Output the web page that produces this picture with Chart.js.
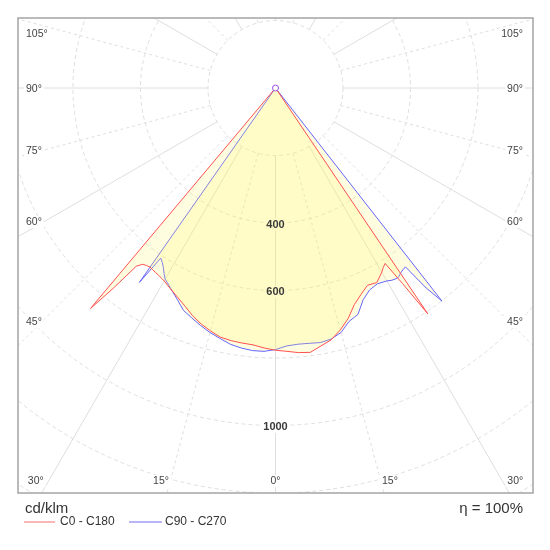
<!DOCTYPE html>
<html>
<head>
<meta charset="utf-8">
<script src="https://cdn.jsdelivr.net/npm/chart.js@4/dist/chart.umd.min.js"></script>
<style>
  body { margin: 0; background: #fff; }
  canvas { display: block; }
</style>
</head>
<body>
<canvas id="ldc" width="550" height="550"></canvas>
<script>
// gamma angles, deg from nadir
const gamma = [0, 2.5, 5, 7.5, 10, 12.5, 15, 17.5, 20, 22.5, 25, 27.5, 30, 31, 32, 33, 34, 35, 36, 37, 38, 39, 40, 41, 90];

// intensities, cd/klm
const c0   = [777, 781, 787, 790, 776, 764, 742, 716, 683, 662, 645, 650, 630, 620, 613, 690, 807, 0, 0, 0, 0, 0, 0, 0, 0];
const c180 = [777, 771, 764, 762, 760, 756, 745, 733, 718, 700, 685, 672, 660, 657, 654, 652, 650, 648, 650, 654, 670, 762, 853, 0, 0];
const c90  = [775, 765, 762, 763, 766, 762, 750, 725, 714, 679, 660, 654, 660, 665, 668, 669, 662, 658, 655, 742, 801, 0, 0, 0, 0];
const c270 = [775, 781, 781, 777, 771, 760, 750, 738, 725, 713, 690, 671, 654, 641, 627, 616, 608, 703, 0, 0, 0, 0, 0, 0, 0];

const rings = [200, 400, 600, 800, 1000, 1200, 1400];
const ringLabels = [400, 600, 1000];
const sideAngles = [105, 90, 75, 60, 45];
const bottomAngles = [-30, -15, 0, 15, 30];

const FONT = "'Liberation Sans', Arial, sans-serif";

// left half-plane goes to -x, right half-plane to +x, nadir is -y
function curve (left, right) {
  let pts = []
  for (let i = gamma.length - 1; i >= 0; i--) {
    let a = gamma[i] * Math.PI / 180
    pts.push({ x: -left[i] * Math.sin(a), y: -left[i] * Math.cos(a) })
  }
  for (let i = 1; i < gamma.length; i++) {
    let a = gamma[i] * Math.PI / 180
    pts.push({ x: right[i] * Math.sin(a), y: -right[i] * Math.cos(a) })
  }
  return pts
}

// white box behind a label, so grid lines break around it
function clearBox (ctx, txt, x, y) {
  const w = ctx.measureText(txt).width
  let x0 = x
  if (ctx.textAlign === 'center') x0 = x - w / 2
  else if (ctx.textAlign === 'right') x0 = x - w
  const fill = ctx.fillStyle
  ctx.fillStyle = '#fff'
  ctx.fillRect(x0 - 2, y - 6, w + 4, 12)
  ctx.fillStyle = fill
}

function boxedText (ctx, txt, x, y) {
  clearBox(ctx, txt, x, y)
  ctx.fillText(txt, x, y)
}

const ringFont = 'bold 11px ' + FONT

const polarGrid = {
  id: 'polarGrid',
  beforeDatasetsDraw (chart) {
    const { ctx, chartArea: area, scales: { x, y } } = chart
    const cx = x.getPixelForValue(0), cy = y.getPixelForValue(0)
    const px = v => x.getPixelForValue(v) - cx
    ctx.save()
    ctx.beginPath()
    ctx.rect(area.left, area.top, area.right - area.left, area.bottom - area.top)
    ctx.clip()
    ctx.lineWidth = 1
    ctx.strokeStyle = '#dedede'
    ctx.setLineDash([4, 3])
    rings.forEach(r => {
      ctx.beginPath()
      ctx.arc(cx, cy, px(r), 0, Math.PI * 2)
      ctx.stroke()
    })
    const r0 = px(rings[0]), r1 = px(3000)
    for (let g = 0; g < 360; g += 15) {
      ctx.setLineDash(g % 30 ? [3, 3] : [])
      const a = g * Math.PI / 180
      ctx.beginPath()
      ctx.moveTo(cx + r0 * Math.sin(a), cy + r0 * Math.cos(a))
      ctx.lineTo(cx + r1 * Math.sin(a), cy + r1 * Math.cos(a))
      ctx.stroke()
    }
    ctx.setLineDash([])

    ctx.textBaseline = 'middle'
    // boxes for the ring values, text comes after the curves
    ctx.textAlign = 'center'
    ctx.font = ringFont
    ringLabels.forEach(v => clearBox(ctx, String(v), cx, y.getPixelForValue(-v) + 1.5))

    // angle labels on the sides
    const sideY = [16, 71, 133, 204, 304]
    ctx.fillStyle = '#444'
    ctx.font = '10.5px ' + FONT
    sideAngles.forEach((g, i) => {
      ctx.textAlign = 'left'
      boxedText(ctx, g + '°', area.left + 8, area.top + sideY[i])
      ctx.textAlign = 'right'
      boxedText(ctx, g + '°', area.right - 10, area.top + sideY[i])
    })
    // angle labels along the bottom edge
    const by = area.bottom - 12
    bottomAngles.forEach(g => {
      const xi = cx + (area.bottom - cy) * Math.tan(g * Math.PI / 180)
      if (g < 0) { ctx.textAlign = 'right'; boxedText(ctx, -g + '°', xi + 2, by) }
      else if (g > 0) { ctx.textAlign = 'left'; boxedText(ctx, g + '°', xi - 2, by) }
      else { ctx.textAlign = 'center'; boxedText(ctx, '0°', xi, by) }
    })
    ctx.restore()
  },
  afterDatasetsDraw (chart) {
    const { ctx, scales: { x, y } } = chart
    const cx = x.getPixelForValue(0)
    ctx.save()
    ctx.fillStyle = '#3a3a3a'
    ctx.textBaseline = 'middle'
    ctx.textAlign = 'center'
    ctx.font = ringFont
    ringLabels.forEach(v => ctx.fillText(String(v), cx, y.getPixelForValue(-v) + 1.5))
    ctx.restore()
  },
  afterDraw (chart) {
    const { ctx, chartArea: area } = chart
    ctx.save()
    ctx.strokeStyle = '#a4a4a4'
    ctx.lineWidth = 1.5
    ctx.strokeRect(area.left, area.top, area.right - area.left, area.bottom - area.top)

    ctx.fillStyle = '#333'
    ctx.textBaseline = 'alphabetic'
    ctx.font = '15px ' + FONT
    ctx.textAlign = 'left'
    ctx.fillText('cd/klm', area.left + 7, area.bottom + 20)
    ctx.textAlign = 'right'
    ctx.fillText('η = 100%', area.right - 10, area.bottom + 20)

    // legend
    ctx.font = '12px ' + FONT
    ctx.textAlign = 'left'
    ctx.textBaseline = 'middle'
    const ly = area.bottom + 29
    ctx.lineWidth = 1
    ctx.strokeStyle = 'rgb(245, 110, 110)'
    ctx.beginPath(); ctx.moveTo(24, ly); ctx.lineTo(55, ly); ctx.stroke()
    ctx.fillText('C0 - C180', 60, ly)
    ctx.strokeStyle = 'rgb(110, 110, 240)'
    ctx.beginPath(); ctx.moveTo(129, ly); ctx.lineTo(162, ly); ctx.stroke()
    ctx.fillText('C90 - C270', 165, ly)
    ctx.restore()
  }
}

new Chart(document.getElementById('ldc'), {
  type: 'scatter',
  data: {
    datasets: [
      {
        label: 'centre',
        data: [{ x: 0, y: 0 }],
        pointRadius: 3,
        pointBorderWidth: 1,
        pointBorderColor: '#9b4fe0',
        pointBackgroundColor: '#fff'
      },
      {
        label: 'C0 - C180',
        data: curve(c180, c0),
        showLine: true,
        fill: 'shape',
        backgroundColor: 'rgba(255, 245, 100, 0.2)',
        borderColor: 'rgb(255, 80, 80)',
        borderWidth: 1,
        pointRadius: 0,
        tension: 0
      },
      {
        label: 'C90 - C270',
        data: curve(c270, c90),
        showLine: true,
        fill: 'shape',
        backgroundColor: 'rgba(255, 245, 100, 0.2)',
        borderColor: 'rgb(100, 100, 255)',
        borderWidth: 1,
        pointRadius: 0,
        tension: 0
      }
    ]
  },
  options: {
    responsive: false,
    animation: false,
    events: [],
    layout: { padding: { left: 18, top: 18, right: 17, bottom: 57 } },
    scales: {
      x: { type: 'linear', display: false, min: -763, max: 763 },
      y: { type: 'linear', display: false, min: -1200, max: 207.5 }
    },
    plugins: {
      legend: { display: false },
      tooltip: { enabled: false }
    }
  },
  plugins: [polarGrid]
});
</script>
</body>
</html>
